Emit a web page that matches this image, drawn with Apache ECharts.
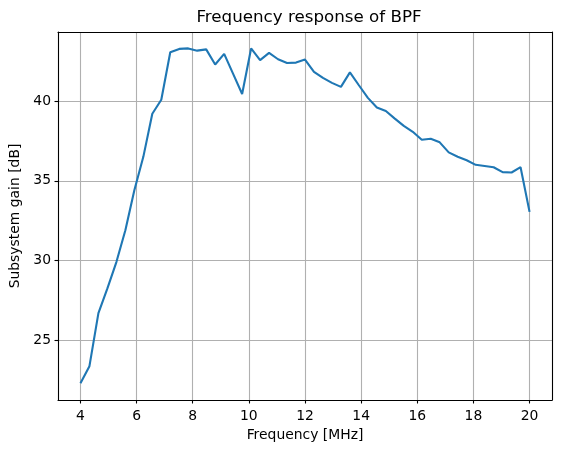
<!DOCTYPE html>
<html>
<head>
<meta charset="utf-8">
<script src="https://cdn.jsdelivr.net/npm/echarts@6/dist/echarts.min.js"></script>
<style>
  html, body { margin: 0; padding: 0; background: #fff; }
  #chart { width: 562px; height: 451px; }
</style>
</head>
<body>
<div id="chart"></div>
<script>
// frequency points [MHz]
const freq = [
  4.00, 4.32, 4.64, 4.96, 5.28, 5.60, 5.92, 6.24, 6.56, 6.88,
  7.20, 7.52, 7.84, 8.16, 8.48, 8.80, 9.12, 9.44, 9.76, 10.08,
  10.40, 10.72, 11.04, 11.36, 11.68, 12.00, 12.32, 12.64, 12.96, 13.28,
  13.60, 13.92, 14.24, 14.56, 14.88, 15.20, 15.52, 15.84, 16.16, 16.48,
  16.80, 17.12, 17.44, 17.76, 18.08, 18.40, 18.72, 19.04, 19.36, 19.68,
  20.00
]
// subsystem gain [dB]
const gain = [
  22.30, 23.37, 26.70, 28.25, 29.90, 31.90, 34.40, 36.50, 39.20, 40.08,
  43.06, 43.27, 43.30, 43.16, 43.24, 42.29, 42.96, 41.70, 40.44, 43.30,
  42.57, 43.02, 42.62, 42.39, 42.41, 42.60, 41.83, 41.45, 41.14, 40.89,
  41.80, 40.99, 40.20, 39.59, 39.38, 38.90, 38.44, 38.07, 37.57, 37.63,
  37.41, 36.78, 36.51, 36.29, 36.00, 35.93, 35.85, 35.54, 35.52, 35.85,
  33.05
]
const xTicks = [4, 6, 8, 10, 12, 14, 16, 18, 20]
const yTicks = [25, 30, 35, 40]

const font = 'DejaVu Sans'
const gridLine = { show: true, lineStyle: { color: '#b0b0b0', width: 1.1 } }

const chart = echarts.init(document.getElementById('chart'), null, { renderer: 'canvas' })
chart.setOption({
  animation: false,
  backgroundColor: '#ffffff',
  title: {
    text: 'Frequency response of BPF',
    left: 304,
    textAlign: 'center',
    top: 4,
    textStyle: { fontFamily: font, fontSize: 16.7, fontWeight: 'normal', color: '#000' }
  },
  grid: { left: 56, right: 10, top: 32, bottom: 51, containLabel: false },
  xAxis: [{
    type: 'value',
    min: 3.2,
    max: 20.8,
    name: 'Frequency [MHz]',
    nameLocation: 'middle',
    nameGap: 26,
    nameTextStyle: { fontFamily: font, fontSize: 13.9, color: '#000' },
    axisLine: { show: true, onZero: false, lineStyle: { color: '#000', width: 1.1 } },
    axisTick: { show: true, inside: false, length: 3.5, customValues: xTicks, lineStyle: { color: '#000', width: 1.1 } },
    axisLabel: { customValues: xTicks, margin: 9, fontFamily: font, fontSize: 13.9, color: '#000' },
    splitLine: gridLine
  }, {
    type: 'value',
    position: 'top',
    min: 3.2,
    max: 20.8,
    axisLine: { show: true, onZero: false, lineStyle: { color: '#000', width: 1.1 } },
    axisTick: { show: false },
    axisLabel: { show: false },
    splitLine: { show: false }
  }],
  yAxis: [{
    type: 'value',
    min: 21.25,
    max: 44.33,
    name: 'Subsystem gain [dB]',
    nameLocation: 'middle',
    nameGap: 36,
    nameTextStyle: { fontFamily: font, fontSize: 13.9, color: '#000' },
    axisLine: { show: true, onZero: false, lineStyle: { color: '#000', width: 1.1 } },
    axisTick: { show: true, inside: false, length: 3.5, customValues: yTicks, lineStyle: { color: '#000', width: 1.1 } },
    axisLabel: { customValues: yTicks, margin: 7, fontFamily: font, fontSize: 13.9, color: '#000' },
    splitLine: gridLine
  }, {
    type: 'value',
    position: 'right',
    min: 21.25,
    max: 44.33,
    axisLine: { show: true, onZero: false, lineStyle: { color: '#000', width: 1.1 } },
    axisTick: { show: false },
    axisLabel: { show: false },
    splitLine: { show: false }
  }],
  series: [{
    type: 'line',
    xAxisIndex: 0,
    yAxisIndex: 0,
    data: freq.map((f, i) => [f, gain[i]]),
    showSymbol: false,
    symbol: 'none',
    lineStyle: { color: '#1f77b4', width: 2.1 },
    itemStyle: { color: '#1f77b4' }
  }]
})
</script>
</body>
</html>
